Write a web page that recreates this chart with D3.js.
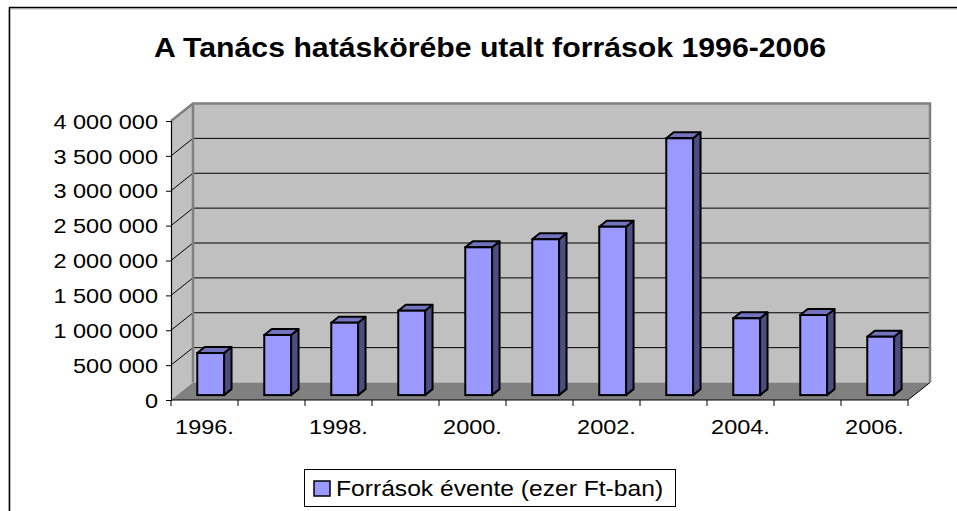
<!DOCTYPE html>
<html>
<head>
<meta charset="utf-8">
<script src="https://cdn.jsdelivr.net/npm/d3@7"></script>
<style>
  body { margin: 0; background: #fff; }
  text { font-family: "Liberation Sans", Arial, sans-serif; }
</style>
</head>
<body>
<svg id="chart" width="957" height="511"></svg>
<script>
// Chart data
var years = ["1996.", "1997.", "1998.", "1999.", "2000.", "2001.", "2002.", "2003.", "2004.", "2005.", "2006."];
var values = [603000, 862000, 1038000, 1210000, 2119000, 2234000, 2414000, 3682000, 1101000, 1148000, 837000];
var yTicks = [0, 500000, 1000000, 1500000, 2000000, 2500000, 3000000, 3500000, 4000000];
var shownYears = ["1996.", "1998.", "2000.", "2002.", "2004.", "2006."];
var titleText = "A Tanács hatáskörébe utalt források 1996-2006";
var legendText = "Források évente (ezer Ft-ban)";

var svg = d3.select("#chart");

// text in the original is a bit wider than Arial, stretch it horizontally
var STRETCH = 1.12;
function stretch(sel) {
    sel.each(function() {
        var t = d3.select(this);
        var ax = +t.attr("x") || 0, ay = +t.attr("y") || 0;
        t.attr("transform", "translate(" + ax + "," + ay + ") scale(" + STRETCH + ",1) translate(" + (-ax) + "," + (-ay) + ")");
    });
}

// number format with space as thousands separator
var huFormat = d3.formatLocale({decimal: ",", thousands: "\u00a0", grouping: [3], currency: ["", " Ft"]}).format(",d");

// scales for the front plane
var x = d3.scaleBand().domain(years).range([171, 908]);
var y = d3.scaleLinear().domain([0, 4000000]).range([400, 121]);

// depth offset of the back wall
var DX = 22, DY = -17.5;
function px(xv, f) { return xv + DX * f; }
function py(yv, f) { return yv + DY * f; }

// outer frame
svg.append("path")
    .attr("d", "M10,512 L10,8 L958,8")
    .attr("fill", "none")
    .attr("stroke", "#bbb")
    .attr("stroke-width", 1)
    .attr("transform", "translate(-1,1)");
svg.append("path")
    .attr("d", "M9.5,512 L9.5,7.5 L958,7.5")
    .attr("fill", "none")
    .attr("stroke", "#000")
    .attr("stroke-width", 1.5);

// title
svg.append("text")
    .attr("x", 490)
    .attr("y", 57)
    .attr("text-anchor", "middle")
    .attr("font-size", 27)
    .attr("font-weight", "bold")
    .text(titleText)
    .call(stretch);

var x0 = x.range()[0], x1 = x.range()[1];
var y0 = y(0), yTop = y(4000000);

// left wall
svg.append("polygon")
    .attr("points", [[x0, y0], [x0, yTop], [px(x0, 1), py(yTop, 1)], [px(x0, 1), py(y0, 1)]].join(" "))
    .attr("fill", "#c0c0c0");

// back wall
svg.append("polygon")
    .attr("points", [[px(x0, 1), py(yTop, 1)], [px(x1, 1), py(yTop, 1)], [px(x1, 1), py(y0, 1)], [px(x0, 1), py(y0, 1)]].join(" "))
    .attr("fill", "#c0c0c0");

// floor
svg.append("polygon")
    .attr("points", [[x0, y0], [x1, y0], [px(x1, 1), py(y0, 1)], [px(x0, 1), py(y0, 1)]].join(" "))
    .attr("fill", "#808080");

// gridlines on back and left walls
var grid = svg.append("g");
grid.selectAll("line.back")
    .data(yTicks.slice(1))
    .enter().append("line")
    .attr("class", "back")
    .attr("x1", px(x0, 1)).attr("x2", px(x1, 1))
    .attr("y1", d => py(y(d), 1)).attr("y2", d => py(y(d), 1))
    .attr("stroke", "#000").attr("stroke-width", 1);
grid.selectAll("line.side")
    .data(yTicks.slice(1, -1))
    .enter().append("line")
    .attr("class", "side")
    .attr("x1", x0).attr("x2", px(x0, 1))
    .attr("y1", d => y(d)).attr("y2", d => py(y(d), 1))
    .attr("stroke", "#000").attr("stroke-width", 1);

// wall edges
svg.append("path")
    .attr("d", "M" + x0 + "," + yTop + " L" + px(x0, 1) + "," + py(yTop, 1) + " L" + px(x1, 1) + "," + py(yTop, 1) + " L" + px(x1, 1) + "," + py(y0, 1))
    .attr("fill", "none").attr("stroke", "#808080").attr("stroke-width", 2.5);
svg.append("line")
    .attr("x1", px(x0, 1)).attr("x2", px(x0, 1))
    .attr("y1", py(yTop, 1)).attr("y2", py(y0, 1))
    .attr("stroke", "#808080").attr("stroke-width", 2.5);

// floor right edge
svg.append("line")
    .attr("x1", x1).attr("y1", y0).attr("x2", px(x1, 1)).attr("y2", py(y0, 1))
    .attr("stroke", "#000").attr("stroke-width", 1);

// y axis
var yAxis = svg.append("g")
    .attr("transform", "translate(" + x0 + ",0)")
    .call(d3.axisLeft(y).tickValues(yTicks).tickSize(5).tickPadding(8).tickFormat(huFormat));
yAxis.select(".domain").attr("stroke", "#000").attr("stroke-width", 1.2);
yAxis.selectAll("text")
    .attr("font-size", 21).attr("fill", "#000").attr("font-family", "Liberation Sans, Arial, sans-serif")
    .attr("dy", "0.34em")
    .call(stretch);

// x axis (ticks at category boundaries)
var xAxisG = svg.append("g");
xAxisG.append("line")
    .attr("x1", x0).attr("x2", x1).attr("y1", y0).attr("y2", y0)
    .attr("stroke", "#000").attr("stroke-width", 1.2);
xAxisG.selectAll("line.tick")
    .data(years.concat(["end"]))
    .enter().append("line")
    .attr("class", "tick")
    .attr("x1", d => d === "end" ? x1 : x(d))
    .attr("x2", d => d === "end" ? x1 : x(d))
    .attr("y1", y0).attr("y2", y0 + 6)
    .attr("stroke", "#000");
xAxisG.selectAll("text")
    .data(shownYears)
    .enter().append("text")
    .attr("x", d => x(d) + x.bandwidth() / 2)
    .attr("y", 434)
    .attr("text-anchor", "middle")
    .attr("font-size", 21)
    .text(d => d)
    .call(stretch);

// bars
var F = 0.28, G = 0.34;   // depth position and depth of the bars
var barW = x.bandwidth() * 0.4;
var bars = svg.append("g").selectAll("g.bar")
    .data(years.map((d, i) => ({year: d, value: values[i]})))
    .enter().append("g").attr("class", "bar");

function barGeom(d) {
    var xl = px(x(d.year) + (x.bandwidth() - barW) / 2, F);
    var xr = xl + barW;
    var yt = py(y(d.value), F);
    var yb = py(y(0), F);
    return {xl: xl, xr: xr, yt: yt, yb: yb, ddx: DX * G, ddy: DY * G};
}

bars.append("polygon")
    .attr("points", d => {
        var g = barGeom(d);
        return [[g.xr, g.yb], [g.xr, g.yt], [g.xr + g.ddx, g.yt + g.ddy], [g.xr + g.ddx, g.yb + g.ddy]].join(" ");
    })
    .attr("fill", "#4d4d80").attr("stroke", "#000").attr("stroke-width", 2).attr("stroke-linejoin", "round");
bars.append("polygon")
    .attr("points", d => {
        var g = barGeom(d);
        return [[g.xl, g.yt], [g.xr, g.yt], [g.xr + g.ddx, g.yt + g.ddy], [g.xl + g.ddx, g.yt + g.ddy]].join(" ");
    })
    .attr("fill", "#7373bf").attr("stroke", "#000").attr("stroke-width", 2).attr("stroke-linejoin", "round");
bars.append("rect")
    .attr("x", d => barGeom(d).xl)
    .attr("y", d => barGeom(d).yt)
    .attr("width", barW)
    .attr("height", d => barGeom(d).yb - barGeom(d).yt)
    .attr("fill", "#9999ff").attr("stroke", "#000").attr("stroke-width", 2);

// legend
var legend = svg.append("g");
legend.append("rect")
    .attr("x", 304.5).attr("y", 469.5).attr("width", 371).attr("height", 37)
    .attr("fill", "#fff").attr("stroke", "#000").attr("stroke-width", 1);
legend.append("rect")
    .attr("x", 314).attr("y", 481).attr("width", 16).attr("height", 15)
    .attr("fill", "#9999ff").attr("stroke", "#000").attr("stroke-width", 1.5);
legend.append("text")
    .attr("x", 336).attr("y", 496)
    .attr("font-size", 22)
    .text(legendText)
    .call(stretch);
</script>
</body>
</html>
